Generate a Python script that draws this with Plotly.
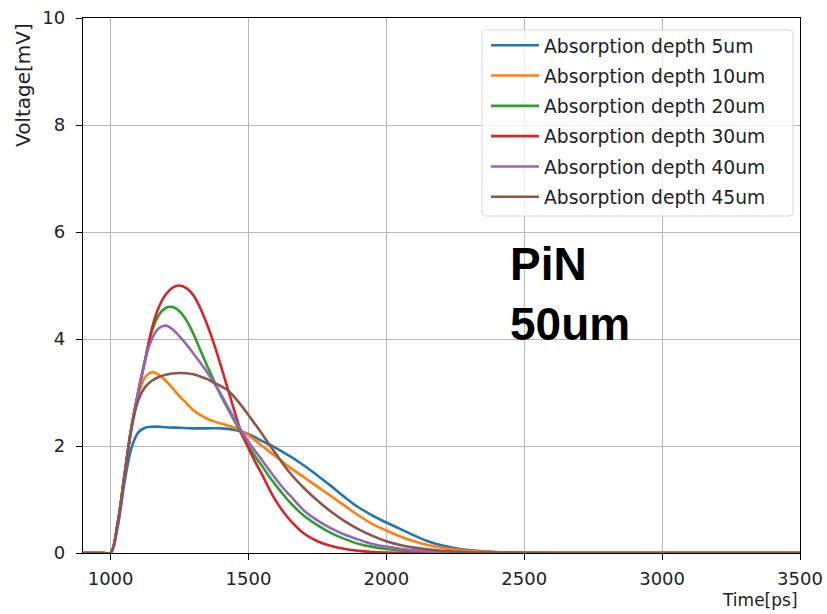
import plotly.graph_objects as go

# ---- data ----
labels = ["Absorption depth 5um", "Absorption depth 10um", "Absorption depth 20um",
          "Absorption depth 30um", "Absorption depth 40um", "Absorption depth 45um"]
colors = ["#1f77b4", "#ff7f0e", "#2ca02c", "#d62728", "#9467bd", "#8c564b"]

t_5um = [900, 950, 975, 1000, 1025, 1050, 1075, 1100, 1125, 1150, 1175, 1200, 1250, 1300, 1350, 1400,
         1425, 1450, 1475, 1500, 1525, 1550, 1575, 1600, 1650, 1700, 1750, 1800, 1850, 1900, 1950,
         2000, 2050, 2100, 2150, 2200, 2250, 2300, 2350, 2400, 2500, 2600, 2800, 3500]
v_5um = [0, 0, 0, 0, 0.47, 1.3, 1.95, 2.25, 2.34, 2.36, 2.36, 2.35, 2.34, 2.33, 2.33, 2.33,
         2.32, 2.30, 2.27, 2.22, 2.16, 2.09, 2.03, 1.96, 1.81, 1.64, 1.45, 1.25, 1.04, 0.85, 0.70,
         0.57, 0.45, 0.33, 0.22, 0.145, 0.09, 0.055, 0.033, 0.02, 0.006, 0, 0, 0]

t_10um = [900, 950, 975, 1000, 1025, 1050, 1075, 1100, 1125, 1150, 1175, 1200, 1225, 1250, 1275,
          1300, 1325, 1350, 1375, 1400, 1425, 1450, 1475, 1500, 1550, 1600, 1650, 1700, 1750,
          1800, 1850, 1900, 1950, 2000, 2050, 2100, 2150, 2200, 2250, 2300, 2400, 2500, 2600,
          2800, 3500]
v_10um = [0, 0, 0, 0, 0.53, 1.43, 2.33, 2.95, 3.28, 3.38, 3.33, 3.22, 3.08, 2.93, 2.80,
          2.67, 2.58, 2.51, 2.46, 2.42, 2.38, 2.34, 2.28, 2.20, 2.00, 1.80, 1.60, 1.42, 1.24,
          1.06, 0.88, 0.70, 0.54, 0.42, 0.31, 0.22, 0.15, 0.10, 0.065, 0.04, 0.015, 0.005, 0,
          0, 0]

t_20um = [900, 950, 975, 1000, 1025, 1050, 1075, 1100, 1125, 1150, 1175, 1200, 1225, 1250, 1275,
          1300, 1325, 1350, 1375, 1400, 1425, 1450, 1475, 1500, 1525, 1550, 1575, 1600, 1625,
          1650, 1700, 1750, 1800, 1850, 1900, 1950, 2000, 2050, 2100, 2200, 2300, 2500, 3500]
v_20um = [0, 0, 0, 0, 0.53, 1.43, 2.33, 3.0, 3.6, 4.15, 4.45, 4.58, 4.60, 4.52, 4.35,
          4.10, 3.80, 3.50, 3.22, 2.94, 2.70, 2.46, 2.22, 2.00, 1.80, 1.62, 1.43, 1.26, 1.10,
          0.95, 0.70, 0.52, 0.37, 0.26, 0.17, 0.115, 0.075, 0.05, 0.03, 0.01, 0, 0, 0]

t_30um = [900, 950, 975, 1000, 1025, 1050, 1075, 1100, 1125, 1150, 1175, 1200, 1225, 1250, 1275,
          1300, 1325, 1350, 1375, 1400, 1425, 1450, 1475, 1500, 1525, 1550, 1575, 1600, 1625,
          1650, 1700, 1750, 1800, 1850, 1900, 1950, 2000, 2100, 2200, 2500, 3500]
v_30um = [0, 0, 0, 0, 0.53, 1.43, 2.33, 3.0, 3.6, 4.2, 4.6, 4.83, 4.96, 5.0, 4.95,
          4.82, 4.58, 4.27, 3.91, 3.50, 3.07, 2.64, 2.24, 1.96, 1.70, 1.46, 1.20, 0.97, 0.78,
          0.62, 0.37, 0.22, 0.13, 0.075, 0.04, 0.02, 0.01, 0.002, 0, 0, 0]

t_40um = [900, 950, 975, 1000, 1025, 1050, 1075, 1100, 1125, 1150, 1175, 1200, 1225, 1250, 1275,
          1300, 1325, 1350, 1375, 1400, 1425, 1450, 1475, 1500, 1525, 1550, 1575, 1600, 1625,
          1650, 1700, 1750, 1800, 1850, 1900, 1950, 2000, 2050, 2100, 2200, 2300, 2400, 2600, 3500]
v_40um = [0, 0, 0, 0, 0.53, 1.43, 2.33, 3.0, 3.6, 4.0, 4.2, 4.25, 4.18, 4.05, 3.90,
          3.73, 3.56, 3.38, 3.18, 2.97, 2.73, 2.50, 2.28, 2.08, 1.90, 1.73, 1.55, 1.38, 1.22,
          1.08, 0.80, 0.61, 0.46, 0.34, 0.25, 0.17, 0.12, 0.08, 0.05, 0.02, 0.006, 0, 0, 0]

t_45um = [900, 950, 975, 1000, 1025, 1050, 1075, 1100, 1125, 1150, 1175, 1200, 1225, 1250, 1275,
          1300, 1325, 1350, 1375, 1400, 1425, 1450, 1475, 1500, 1525, 1550, 1575, 1600, 1650,
          1700, 1750, 1800, 1850, 1900, 1950, 2000, 2050, 2100, 2200, 2300, 2400, 2500, 2700, 3500]
v_45um = [0, 0, 0, 0, 0.53, 1.43, 2.30, 2.85, 3.10, 3.22, 3.29, 3.33, 3.355, 3.365, 3.36,
          3.34, 3.30, 3.25, 3.18, 3.12, 3.04, 2.91, 2.75, 2.58, 2.40, 2.22, 2.03, 1.85, 1.50,
          1.22, 0.98, 0.77, 0.59, 0.44, 0.32, 0.22, 0.15, 0.10, 0.04, 0.015, 0.005, 0, 0, 0]

series_t = [t_5um, t_10um, t_20um, t_30um, t_40um, t_45um]
series_v = [v_5um, v_10um, v_20um, v_30um, v_40um, v_45um]

x_ticks = [1000, 1500, 2000, 2500, 3000, 3500]
y_ticks = [0, 2, 4, 6, 8, 10]

fig = go.Figure()
for i, (tt, vv) in enumerate(zip(series_t, series_v)):
    fig.add_trace(go.Scatter(
        x=tt, y=vv, mode="lines", name=labels[i], legendgroup=f"g{i}",
        line=dict(color=colors[i], width=2.6, shape="spline", smoothing=1.0),
    ))

axis_common = dict(
    showgrid=True, gridcolor="#b8b8b8", gridwidth=1,
    showline=True, linecolor="black", linewidth=1.4, mirror=True,
    ticks="outside", ticklen=6, tickwidth=1.2, tickcolor="black",
    tickfont=dict(family="DejaVu Sans", size=18, color="#222222"),
    zeroline=False, automargin=False,
)

fig.update_xaxes(range=[900, 3500], tickvals=x_ticks, ticklabelstandoff=3, **axis_common)
fig.update_yaxes(range=[0, 10], tickvals=y_ticks, ticklabelstandoff=7, **axis_common)

# legend frame (rounded, semi-transparent like the reference)
bx0, bx1, by0, by1 = 0.5565, 0.9902, 0.6299, 0.9776
rx, ry = 0.0056, 0.0075
frame_path = (f"M{bx0+rx},{by1} L{bx1-rx},{by1} Q{bx1},{by1} {bx1},{by1-ry} "
              f"L{bx1},{by0+ry} Q{bx1},{by0} {bx1-rx},{by0} L{bx0+rx},{by0} "
              f"Q{bx0},{by0} {bx0},{by0+ry} L{bx0},{by1-ry} Q{bx0},{by1} {bx0+rx},{by1} Z")

fig.update_layout(
    width=827, height=614,
    margin=dict(l=83, r=27, t=18, b=61),
    paper_bgcolor="white", plot_bgcolor="white",
    showlegend=True,
    legend=dict(
        x=0.5621, y=0.984, xanchor="left", yanchor="top",
        bgcolor="rgba(0,0,0,0)", borderwidth=0,
        font=dict(family="DejaVu Sans", size=18.7, color="#222222"),
        tracegroupgap=3, traceorder="grouped", itemwidth=48,
    ),
    shapes=[dict(type="path", path=frame_path, xref="paper", yref="paper",
                 fillcolor="rgba(255,255,255,0.8)", line=dict(color="#d6d6d6", width=1),
                 layer="above")],
    annotations=[
        dict(text="PiN<br>50um", xref="x", yref="y", x=2440, y=4.85,
             xanchor="left", yanchor="middle", align="left", showarrow=False,
             font=dict(family="Liberation Sans", size=46, color="black", weight="bold")),
        dict(text="Voltage[mV]", xref="paper", yref="paper", x=0, y=1,
             xanchor="center", yanchor="top", textangle=-90, xshift=-60, yshift=-3,
             showarrow=False, font=dict(family="DejaVu Sans", size=20, color="#222222")),
        dict(text="Time[ps]", xref="paper", yref="paper", x=1, y=0,
             xanchor="right", yanchor="top", yshift=-35,
             showarrow=False, font=dict(family="DejaVu Sans", size=17, color="#222222")),
    ],
)

fig.write_html("out.html")
